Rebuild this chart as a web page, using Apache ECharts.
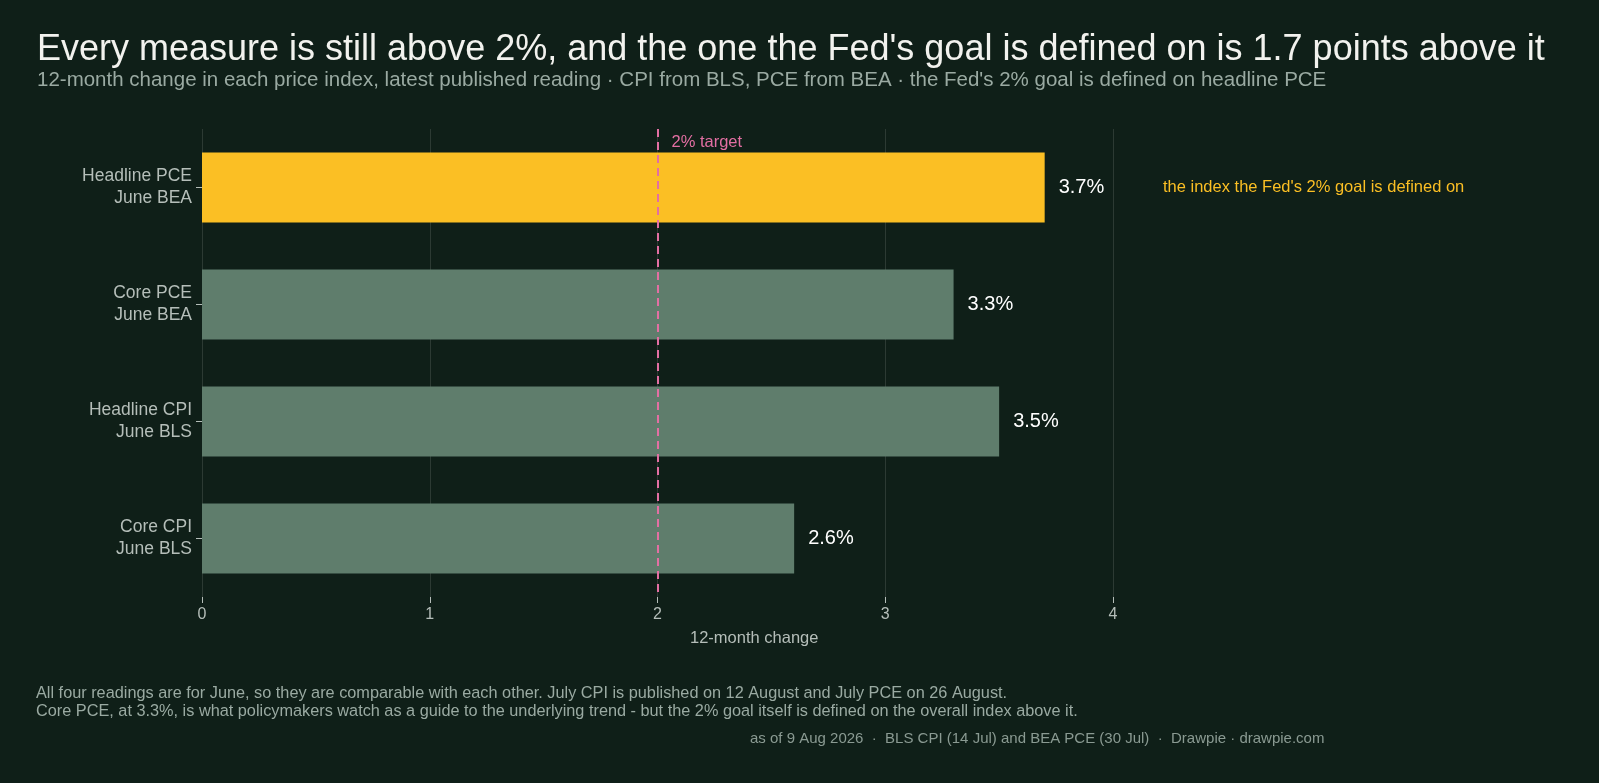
<!DOCTYPE html>
<html>
<head>
<meta charset="UTF-8">
<script src="https://cdn.jsdelivr.net/npm/echarts@6/dist/echarts.min.js"></script>
<style>
html,body{margin:0;padding:0;background:#0f1f18;}
#chart{width:1599px;height:783px;}
</style>
</head>
<body>
<div id="chart"></div>
<script>
// data
var categories = ['Headline PCE\nJune BEA', 'Core PCE\nJune BEA', 'Headline CPI\nJune BLS', 'Core CPI\nJune BLS'];
var values = [3.7, 3.3, 3.5, 2.6];
var targetValue = 2;
var xTicks = [0, 1, 2, 3, 4];

var font = 'Liberation Sans, Arial, sans-serif';
var chart = echarts.init(document.getElementById('chart'));

var option = {
    backgroundColor: '#0f1f18',
    textStyle: { fontFamily: font },
    title: {
        text: "Every measure is still above 2%, and the one the Fed's goal is defined on is 1.7 points above it",
        subtext: "12-month change in each price index, latest published reading · CPI from BLS, PCE from BEA · the Fed's 2% goal is defined on headline PCE",
        left: 32, top: 27,
        itemGap: 2,
        textStyle: { color: '#f2f2ee', fontSize: 36, fontWeight: 'normal', fontFamily: font },
        subtextStyle: { color: '#9aaaa2', fontSize: 20.5, fontFamily: font }
    },
    grid: { left: 202, right: 1599 - 1113, top: 129, bottom: 783 - 597, containLabel: false },
    xAxis: {
        type: 'value', min: 0, max: 4, interval: 1,
        axisLine: { show: false },
        axisTick: { show: true, length: 6, lineStyle: { color: '#b5beb9' } },
        axisLabel: { color: '#b5beb9', fontSize: 16, margin: 10 },
        splitLine: { lineStyle: { color: '#2c3a33', width: 1 } }
    },
    yAxis: {
        type: 'category', data: categories, inverse: true,
        axisLine: { show: false },
        axisTick: { show: true, length: 6, alignWithLabel: true, lineStyle: { color: '#b5beb9' } },
        axisLabel: { color: '#b5beb9', fontSize: 17.5, lineHeight: 22, margin: 10 }
    },
    series: [{
        type: 'bar',
        data: values.map(function (v, i) {
            return { value: v, itemStyle: { color: i === 0 ? '#fbbf24' : '#5f7d6c' } };
        }),
        barCategoryGap: '40%',
        label: {
            show: true, position: 'right', distance: 14,
            color: '#ffffff', fontSize: 20,
            formatter: function (p) { return p.value.toFixed(1) + '%'; }
        },
        markLine: {
            symbol: 'none', silent: true,
            lineStyle: { color: '#e36fa3', type: [8, 5], width: 2, opacity: 1 },
            label: { show: false },
            data: [{ xAxis: targetValue }]
        }
    }]
};
chart.setOption(option);

var p2 = chart.convertToPixel({ gridIndex: 0 }, [targetValue, 0]);
var pAnn = chart.convertToPixel({ gridIndex: 0 }, [0, 0]);
chart.setOption({
    graphic: [
        { type: 'text', left: p2[0] + 14, top: 134,
          style: { text: '2% target', fill: '#e36fa3', fontSize: 16.5, fontFamily: font } },
        { type: 'text', left: 1163, top: pAnn[1] - 9,
          style: { text: "the index the Fed's 2% goal is defined on", fill: '#fbbf24', fontSize: 16.5, fontFamily: font } },
        { type: 'text', left: 690, top: 630,
          style: { text: '12-month change', fill: '#b5beb9', fontSize: 16.5, fontFamily: font } },
        { type: 'text', left: 36, top: 684,
          style: { text: 'All four readings are for June, so they are comparable with each other. July CPI is published on 12 August and July PCE on 26 August.\nCore PCE, at 3.3%, is what policymakers watch as a guide to the underlying trend - but the 2% goal itself is defined on the overall index above it.',
                   fill: '#9aaaa2', fontSize: 16.3, lineHeight: 18.5, fontFamily: font } },
        { type: 'text', left: 750, top: 731,
          style: { text: 'as of 9 Aug 2026  ·  BLS CPI (14 Jul) and BEA PCE (30 Jul)  ·  Drawpie · drawpie.com',
                   fill: '#8a9a92', fontSize: 15, fontFamily: font } }
    ]
});
</script>
</body>
</html>
